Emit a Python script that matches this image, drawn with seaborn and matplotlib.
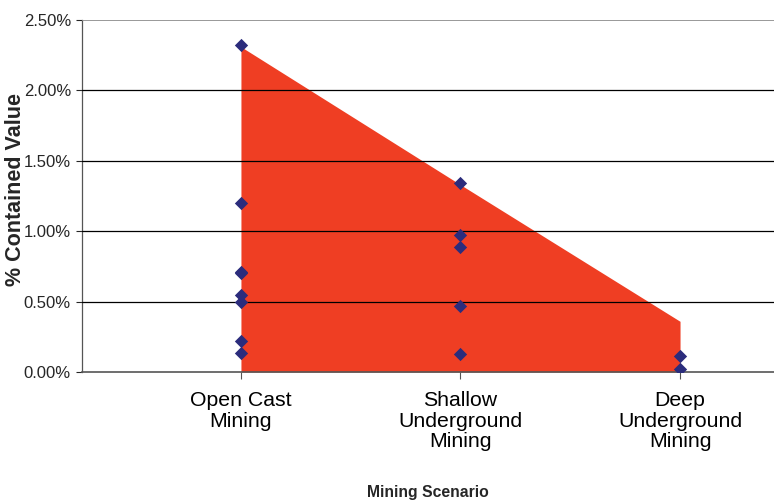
import matplotlib
matplotlib.use("Agg")
import matplotlib.pyplot as plt
import seaborn as sns
import pandas as pd
from matplotlib.ticker import PercentFormatter

categories = ["Open Cast\nMining", "Shallow\nUnderground\nMining", "Deep\nUnderground\nMining"]
area_values = [2.31, 1.33, 0.36]
open_cast_points = [2.32, 1.20, 0.71, 0.70, 0.547, 0.50, 0.22, 0.137]
shallow_points = [1.34, 0.97, 0.886, 0.47, 0.128]
deep_points = [0.116, 0.02]

sns.set_theme(style="white")
plt.rcParams['font.family'] = ['Liberation Sans', 'DejaVu Sans']

rows = []
for i, pts in enumerate([open_cast_points, shallow_points, deep_points]):
    for v in pts:
        rows.append({"x": i, "y": v})
df = pd.DataFrame(rows)

fig = plt.figure(figsize=(7.74, 5.01), dpi=100)
ax = fig.add_axes([82/774, 1 - 372/501, 1 - 82/774, (372 - 20)/501])

ax.fill_between(range(len(area_values)), area_values, 0, color="#EF3E23", lw=0, zorder=2)
for yv in [0.5, 1.0, 1.5, 2.0]:
    ax.axhline(yv, color="black", lw=0.9, zorder=3)
ax.axhline(2.5, color="#888888", lw=1.2, zorder=3)

sns.scatterplot(data=df, x="x", y="y", marker="D", s=46, color="#2B2C7C",
                edgecolor="#2B2C7C", linewidth=0, ax=ax, zorder=4, legend=False)

ax.set_xlim(-0.724, 2.428)
ax.set_ylim(0, 2.5)
ax.set_yticks([0, 0.5, 1.0, 1.5, 2.0, 2.5])
ax.yaxis.set_major_formatter(PercentFormatter(decimals=2))
ax.set_xticks(range(len(categories)))
ax.set_xticklabels(categories, fontsize=15.3, linespacing=1.08)
ax.tick_params(axis="y", labelsize=12, length=4, width=0.8, direction="out", left=True, pad=4)
ax.tick_params(axis="x", length=5, width=0.8, direction="out", bottom=True, pad=9,
               colors="#555555", labelcolor="black")

for s in ["top", "right"]:
    ax.spines[s].set_visible(False)
ax.spines["left"].set_color("#555555")
ax.spines["left"].set_linewidth(0.9)
ax.spines["bottom"].set_color("#555555")
ax.spines["bottom"].set_linewidth(1.2)

ax.set_xlabel("")
ax.set_ylabel("")
fig.text(428/774, 1 - 493/501, "Mining Scenario", fontsize=11.3, fontweight="bold",
         ha="center", va="center")
fig.text(16/774, 1 - 190/501, "% Contained Value", fontsize=15.5, fontweight="bold",
         ha="center", va="center", rotation=90)

fig.savefig("out.png", dpi=100)
